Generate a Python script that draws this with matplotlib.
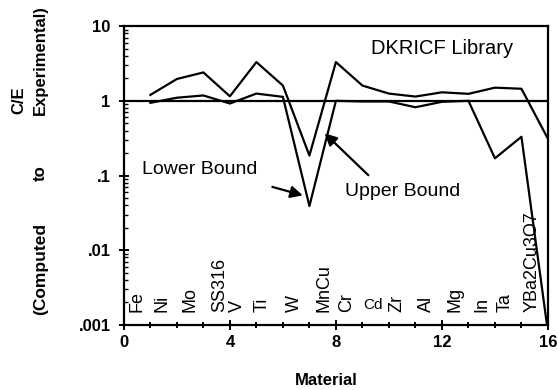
import numpy as np
import matplotlib
matplotlib.use("Agg")
import matplotlib.pyplot as plt
from matplotlib.ticker import FixedLocator, LogLocator, NullFormatter, MultipleLocator

plt.rcParams['font.family'] = ['Liberation Sans', 'DejaVu Sans']

# material index and C/E values
x_pts = [1, 2, 3, 4, 5, 6, 7, 8, 9, 10, 11, 12, 13, 14, 15, 16]
upper = [1.2, 1.96, 2.4, 1.15, 3.3, 1.6, 0.185, 3.3, 1.6, 1.25, 1.14, 1.3, 1.24, 1.5, 1.45, 0.31]
lower = [0.94, 1.1, 1.18, 0.92, 1.25, 1.13, 0.039, 1.0, 0.98, 0.98, 0.82, 0.97, 1.0, 0.17, 0.33, 0.0008]

materials = ["Fe", "Ni", "Mo", "SS316", "V", "Ti", "W", "MnCu", "Cr", "Cd",
             "Zr", "Al", "Mg", "In", "Ta", "YBa2Cu3O7"]
label_x = [0.5, 1.45, 2.5, 3.6, 4.3, 5.2, 6.45, 7.55, 8.4, 9.4,
           10.3, 11.4, 12.5, 13.5, 14.4, 15.4]

fig = plt.figure(figsize=(5.58, 3.9), dpi=100)
ax = fig.add_axes([0.222, 0.167, 0.76, 0.766])

ax.plot(x_pts, upper, color='black', lw=1.6)
ax.plot(x_pts, lower, color='black', lw=1.6)
ax.axhline(1.0, color='black', lw=1.6)

ax.set_yscale('log')
ax.set_xlim(0, 16)
ax.set_ylim(0.001, 10)

ax.yaxis.set_major_locator(FixedLocator([0.001, 0.01, 0.1, 1, 10]))
ax.set_yticklabels([".001", ".01", ".1", "1", "10"], fontweight='bold', fontsize=12)
ax.yaxis.set_minor_locator(LogLocator(base=10, subs=np.arange(2, 10)))
ax.yaxis.set_minor_formatter(NullFormatter())
ax.xaxis.set_major_locator(FixedLocator([0, 4, 8, 12, 16]))
ax.set_xticklabels(["0", "4", "8", "12", "16"], fontweight='bold', fontsize=12)
ax.xaxis.set_minor_locator(MultipleLocator(1))

ax.tick_params(axis='both', which='major', direction='inout', length=7, width=1.4)
ax.tick_params(axis='y', which='major', pad=6)
ax.tick_params(axis='y', which='minor', direction='in', length=3, width=1)
ax.tick_params(axis='x', which='minor', direction='inout', length=5, width=1.4)
for s in ax.spines.values():
    s.set_linewidth(1.6)

for lx, name in zip(label_x, materials):
    if name == "Cd":
        ax.text(lx, 0.0015, name, ha='center', va='bottom', fontsize=11)
    else:
        ax.text(lx, 0.0015, name, rotation=90, ha='center', va='bottom', fontsize=13)

ax.text(12.0, 5.0, "DKRICF Library", ha='center', va='center', fontsize=14.5)
ax.text(2.87, 0.12, "Lower Bound", ha='center', va='center', fontsize=14)
ax.text(10.5, 0.062, "Upper Bound", ha='center', va='center', fontsize=14)

arrow = dict(arrowstyle='-|>', color='black', lw=1.6, mutation_scale=18)
ax.annotate("", xy=(6.85, 0.053), xytext=(5.5, 0.072), arrowprops=arrow)
ax.annotate("", xy=(7.5, 0.39), xytext=(9.3, 0.095), arrowprops=arrow)

fig.text(0.584, 0.025, "Material", ha='center', va='center',
         fontweight='bold', fontsize=12)
fig.text(0.034, 0.744, "C/E", rotation=90, ha='center', va='center',
         fontweight='bold', fontsize=12)
fig.text(0.072, 0.846, "Experimental)", rotation=90, ha='center', va='center',
         fontweight='bold', fontsize=12)
fig.text(0.072, 0.556, "to", rotation=90, ha='center', va='center',
         fontweight='bold', fontsize=12)
fig.text(0.072, 0.31, "(Computed", rotation=90, ha='center', va='center',
         fontweight='bold', fontsize=12.5)

fig.savefig("out.png", dpi=100)
